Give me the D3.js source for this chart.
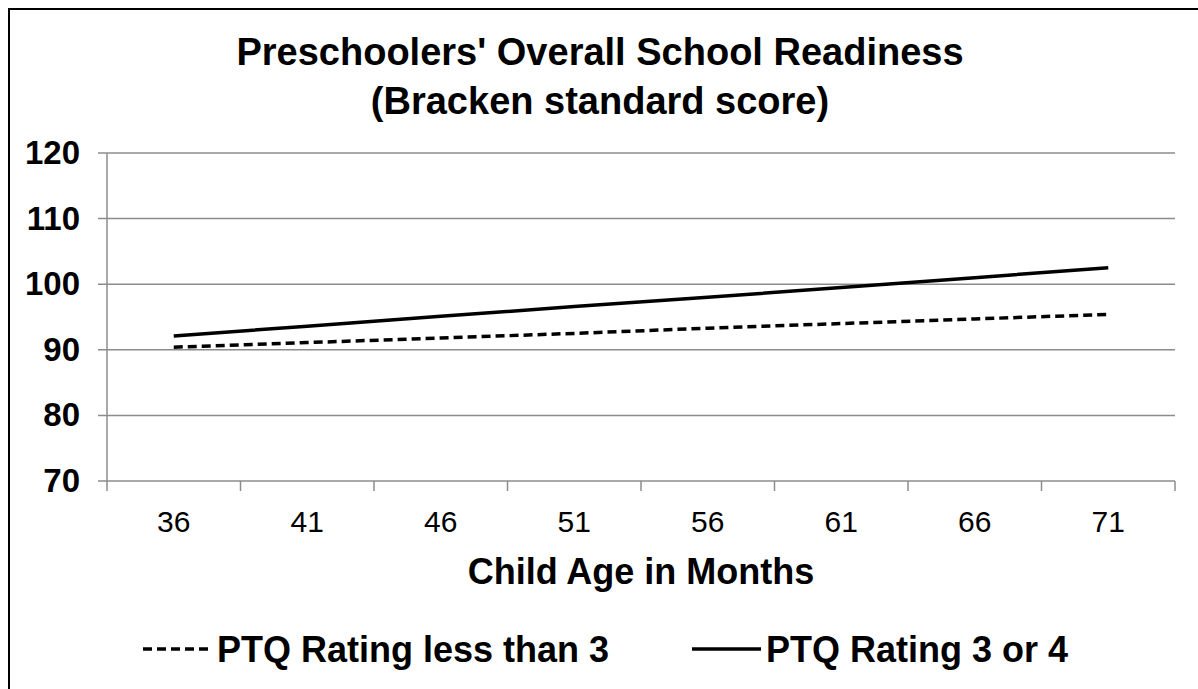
<!DOCTYPE html>
<meta charset="utf-8">
<script src="https://cdn.jsdelivr.net/npm/d3@7"></script>
<style>
    body { margin: 0; background: #fff; }
    text { font-family: "Liberation Sans", Arial, sans-serif; fill: #000; }
    .grid line { stroke: #8c8c8c; stroke-width: 1.5px; }
    .series { fill: none; stroke: #000; stroke-width: 3.5px; }
    .series.dashed { stroke-dasharray: 9, 5; }
</style>
<body>
<script>
    // data
    var ages = ["36", "41", "46", "51", "56", "61", "66", "71"];
    var ptqLow = [90.4, 91.1, 91.8, 92.5, 93.3, 94.0, 94.7, 95.4];
    var ptqHigh = [92.1, 93.6, 95.1, 96.6, 98.0, 99.5, 101.0, 102.5];
    var yTicks = [70, 80, 90, 100, 110, 120];
    var seriesNames = ["PTQ Rating less than 3", "PTQ Rating 3 or 4"];

    var width = 1198,
        height = 689;
    var plotLeft = 107, plotRight = 1175, plotTop = 153, plotBottom = 481;

    var svg = d3.select("body").append("svg")
        .attr("width", width)
        .attr("height", height);

    // outer chart border (runs off the right/bottom like the original)
    svg.append("rect")
        .attr("x", 9).attr("y", 9)
        .attr("width", 1260).attr("height", 760)
        .attr("fill", "none")
        .attr("stroke", "#000")
        .attr("stroke-width", 2);

    var x = d3.scaleBand().domain(ages).range([plotLeft, plotRight]).padding(0);
    var y = d3.scaleLinear().domain([70, 120]).range([plotBottom, plotTop]);

    // gridlines + y ticks
    var grid = svg.append("g").attr("class", "grid");
    grid.selectAll("line.h")
        .data(yTicks)
        .enter().append("line")
        .attr("class", "h")
        .attr("x1", plotLeft - 9).attr("x2", plotRight)
        .attr("y1", function (d) { return y(d); })
        .attr("y2", function (d) { return y(d); });

    // y axis line
    grid.append("line")
        .attr("x1", plotLeft).attr("x2", plotLeft)
        .attr("y1", plotTop).attr("y2", plotBottom + 10);

    // x ticks at category boundaries
    var bounds = ages.map(function (a) { return x(a); }).concat([plotRight]);
    grid.selectAll("line.xt")
        .data(bounds.slice(1))
        .enter().append("line")
        .attr("class", "xt")
        .attr("x1", function (d) { return d; })
        .attr("x2", function (d) { return d; })
        .attr("y1", plotBottom).attr("y2", plotBottom + 10);

    // y tick labels
    svg.selectAll("text.ylab")
        .data(yTicks)
        .enter().append("text")
        .attr("class", "ylab")
        .attr("x", 80)
        .attr("y", function (d) { return y(d) + 11; })
        .attr("text-anchor", "end")
        .style("font-size", "33px")
        .style("font-weight", "bold")
        .text(function (d) { return d; });

    // x tick labels
    svg.selectAll("text.xlab")
        .data(ages)
        .enter().append("text")
        .attr("class", "xlab")
        .attr("x", function (d) { return x(d) + x.bandwidth() / 2; })
        .attr("y", 532)
        .attr("text-anchor", "middle")
        .style("font-size", "30px")
        .text(function (d) { return d; });

    // series lines
    var line = d3.line()
        .x(function (d, i) { return x(ages[i]) + x.bandwidth() / 2; })
        .y(function (d) { return y(d); });

    svg.append("path")
        .datum(ptqLow)
        .attr("class", "series dashed")
        .attr("d", line);

    svg.append("path")
        .datum(ptqHigh)
        .attr("class", "series")
        .attr("d", line);

    // title
    var title = svg.append("text")
        .attr("text-anchor", "middle")
        .style("font-size", "38px")
        .style("font-weight", "bold");
    title.append("tspan").attr("x", 600).attr("y", 65).text("Preschoolers' Overall School Readiness");
    title.append("tspan").attr("x", 600).attr("y", 114).text("(Bracken standard score)");

    // x axis title
    svg.append("text")
        .attr("x", (plotLeft + plotRight) / 2)
        .attr("y", 584)
        .attr("text-anchor", "middle")
        .style("font-size", "36px")
        .style("font-weight", "bold")
        .text("Child Age in Months");

    // legend
    var legend = svg.append("g");
    var legX = [143, 692];
    seriesNames.forEach(function (name, i) {
        legend.append("line")
            .attr("class", i === 0 ? "series dashed" : "series")
            .attr("x1", legX[i]).attr("x2", legX[i] + 69)
            .attr("y1", 649).attr("y2", 649);
        legend.append("text")
            .attr("x", legX[i] + 74)
            .attr("y", 662)
            .style("font-size", "36px")
            .style("font-weight", "bold")
            .text(name);
    });
</script>
</body>
